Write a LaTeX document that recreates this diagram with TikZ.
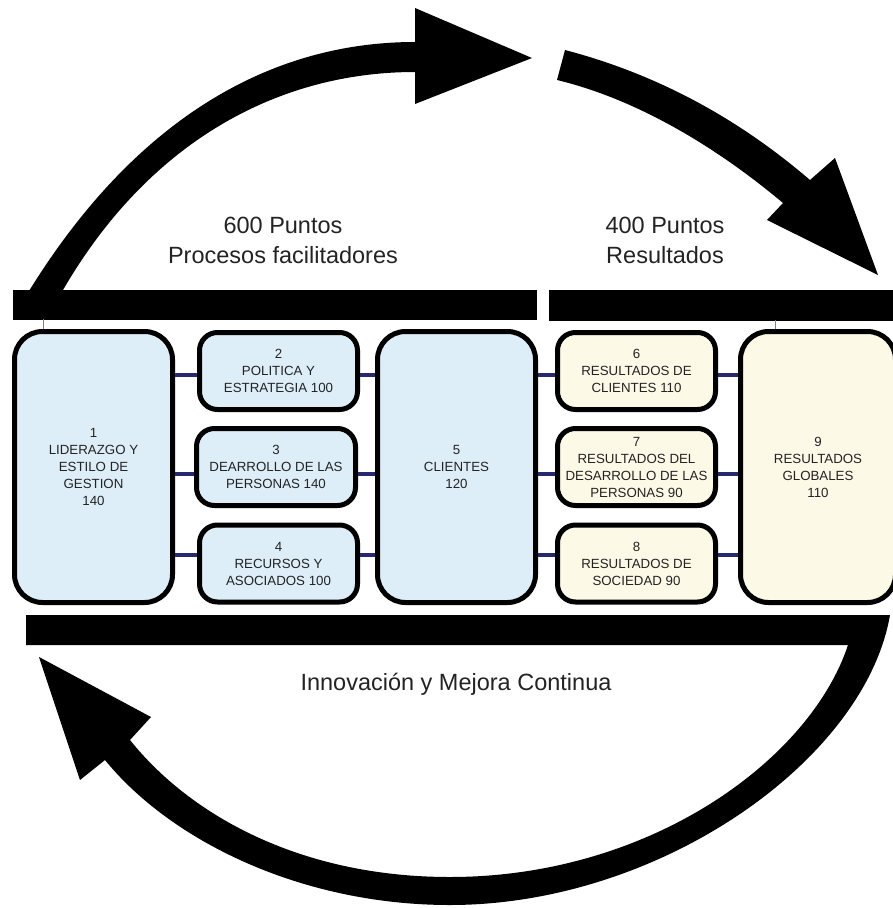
\documentclass[tikz,border=0pt]{standalone}
\usepackage{fontspec}
\setmainfont{Liberation Sans}
\usetikzlibrary{calc}
\definecolor{boxblue}{RGB}{221,238,248}
\definecolor{boxcream}{RGB}{253,249,231}
\definecolor{navy}{RGB}{40,40,110}
\definecolor{txt}{RGB}{35,35,35}
\tikzset{
  box/.style={draw=black, line width=5pt, align=center, inner sep=0pt,
    text=txt, font=\fontsize{13.3}{17}\selectfont},
  smallbox/.style={box, rounded corners=18pt, minimum width=158pt, minimum height=77pt},
  bigbox/.style={box, rounded corners=28pt, minimum width=158pt, minimum height=271pt},
  conn/.style={draw=navy, line width=4.5pt},
  bigtext/.style={align=center, text=txt, font=\fontsize{23.5}{30}\selectfont},
  band/.style={fill=black, draw=none},
  tick/.style={draw=gray, line width=0.8pt}
}
\begin{document}
\begin{tikzpicture}[x=1pt,y=-1pt]
\useasboundingbox (0,0) rectangle (893,908);
\fill[white] (0,0) rectangle (893,908);

% top bars
\fill[band] (13,290) rectangle (537,320);
\fill[band] (549,290) rectangle (893,321);
% top-left arrow
\fill[band] (13,318) .. controls (120,130) and (260,42) .. (415,42)
  -- (415,8) -- (532,58) -- (415,104) -- (415,72)
  .. controls (280,72) and (150,140) .. (63,290) -- (63,300) -- (13,300) -- cycle;
% top-right arrow
\fill[band] (565,50) -- (557,80) .. controls (640,100) and (720,150) .. (783,203)
  -- (767,220) -- (878,275) -- (835,158) -- (810,180)
  .. controls (740,120) and (660,75) .. (565,50) -- cycle;
% bottom bar and arrow
\fill[band] (26,615) -- (890,615) .. controls (865,760) and (660,905) .. (450,905)
  .. controls (300,905) and (170,840) .. (105,760)
  -- (80,780) -- (39,657) -- (151,717) -- (130,740)
  .. controls (190,815) and (300,877) .. (450,877)
  .. controls (650,877) and (810,760) .. (848,645) -- (26,645) -- cycle;

% texts
\node[bigtext] (t600) at (283,240) {600 Puntos\\Procesos facilitadores};
\node[bigtext] (t400) at (665,240) {400 Puntos\\Resultados};
\node[bigtext] (tinn) at (456,684) {Innovación y Mejora Continua};

% boxes
\node[bigbox, fill=boxblue] (b1) at (93.5,467) {1\\LIDERAZGO Y\\ESTILO DE\\GESTION\\140};
\node[smallbox, fill=boxblue] (b2) at (278.5,371) {2\\POLITICA Y\\ESTRATEGIA 100};
\node[smallbox, fill=boxblue, minimum width=159pt] (b3) at (276,467) {3\\DEARROLLO DE LAS\\PERSONAS 140};
\node[smallbox, fill=boxblue] (b4) at (278.5,563.5) {4\\RECURSOS Y\\ASOCIADOS 100};
\node[bigbox, fill=boxblue] (b5) at (456.5,467) {5\\CLIENTES\\120};
\node[smallbox, fill=boxcream] (b6) at (636.5,371) {6\\RESULTADOS DE\\CLIENTES 110};
\node[smallbox, fill=boxcream] (b7) at (636.5,467) {7\\RESULTADOS DEL\\DESARROLLO DE LAS\\PERSONAS 90};
\node[smallbox, fill=boxcream] (b8) at (636.5,563.5) {8\\RESULTADOS DE\\SOCIEDAD 90};
\node[bigbox, fill=boxcream, minimum width=155pt] (b9) at (818,467) {9\\RESULTADOS\\GLOBALES\\110};

% connectors
\draw[conn] ([yshift=-4pt]b2.west) -- ([yshift=-4pt]b2.west -| b1.east);
\draw[conn] ([yshift=-7pt]b3.west) -- ([yshift=-7pt]b3.west -| b1.east);
\draw[conn] ([yshift=8.5pt]b4.west) -- ([yshift=8.5pt]b4.west -| b1.east);
\draw[conn] ([yshift=-4pt]b2.east) -- ([yshift=-4pt]b2.east -| b5.west);
\draw[conn] ([yshift=-7pt]b3.east) -- ([yshift=-7pt]b3.east -| b5.west);
\draw[conn] ([yshift=8.5pt]b4.east) -- ([yshift=8.5pt]b4.east -| b5.west);
\draw[conn] ([yshift=-4pt]b6.west) -- ([yshift=-4pt]b6.west -| b5.east);
\draw[conn] ([yshift=-7pt]b7.west) -- ([yshift=-7pt]b7.west -| b5.east);
\draw[conn] ([yshift=8.5pt]b8.west) -- ([yshift=8.5pt]b8.west -| b5.east);
\draw[conn] ([yshift=-4pt]b6.east) -- ([yshift=-4pt]b6.east -| b9.west);
\draw[conn] ([yshift=-7pt]b7.east) -- ([yshift=-7pt]b7.east -| b9.west);
\draw[conn] ([yshift=8.5pt]b8.east) -- ([yshift=8.5pt]b8.east -| b9.west);

% small ticks from bars to boxes
\coordinate (k1) at (43,319);
\coordinate (k9) at (775,320);
\draw[tick] (k1) -- (k1 |- b1.north);
\draw[tick] (k9) -- (k9 |- b9.north);
\end{tikzpicture}
\end{document}
